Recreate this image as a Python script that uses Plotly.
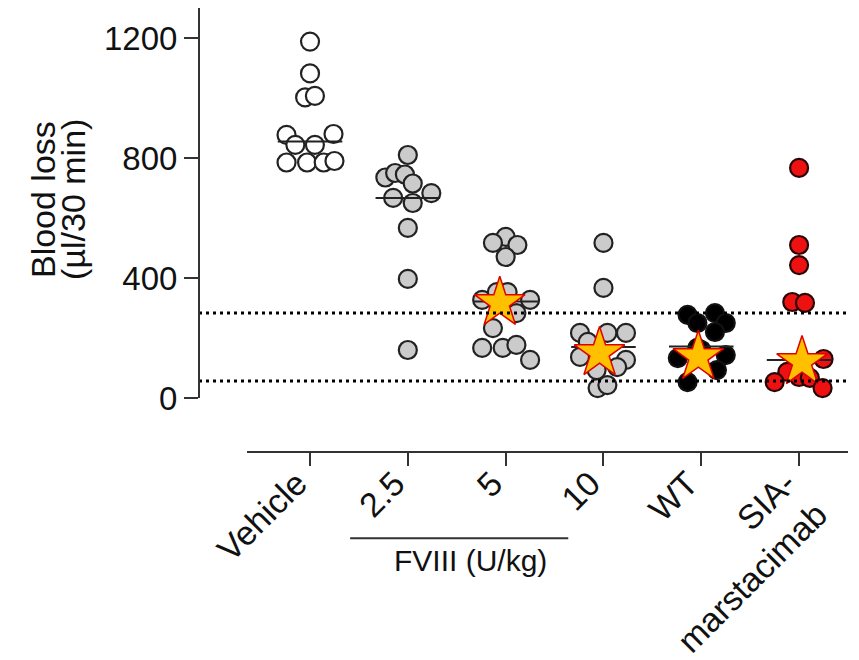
import plotly.graph_objects as go

# ---- data ----
groups = ["Vehicle", "2.5", "5", "10", "WT", "SIA-<br>marstacimab"]

vehicle_vals = [1188, 1082, 1002, 1007, 877, 880, 844, 844, 785, 785, 785, 790]
vehicle_off  = [0.0, 0.0, -0.05, 0.05, -0.24, 0.24, -0.15, 0.05, -0.24, -0.03, 0.14, 0.25]

fviii25_vals = [810, 735, 750, 745, 715, 683, 667, 650, 567, 397, 160]
fviii25_off  = [0.0, -0.23, -0.13, -0.03, 0.05, 0.24, -0.15, 0.05, 0.0, 0.0, 0.0]

fviii5_vals = [537, 517, 510, 470, 327, 353, 353, 327, 283, 233, 167, 167, 177, 127]
fviii5_off  = [0.0, -0.13, 0.12, 0.0, -0.24, -0.09, 0.02, 0.25, 0.11, -0.13, -0.24, -0.03, 0.11, 0.25]

fviii10_vals = [517, 367, 217, 217, 217, 187, 137, 127, 103, 93, 33, 43]
fviii10_off  = [0.0, 0.0, -0.24, 0.04, 0.23, -0.16, -0.24, 0.23, 0.14, -0.07, -0.06, 0.04]

wt_vals = [277, 283, 250, 250, 220, 167, 143, 133, 93, 53, 160]
wt_off  = [-0.14, 0.14, -0.04, 0.25, 0.14, -0.04, 0.25, -0.24, 0.16, -0.14, 0.0]

sia_vals = [767, 510, 443, 320, 317, 130, 87, 70, 67, 53, 33]
sia_off  = [0.0, 0.0, 0.0, -0.07, 0.06, 0.25, -0.12, 0.0, 0.11, -0.25, 0.24]

medians = [855, 667, 322, 170, 172, 127]

star_groups = [2, 3, 4, 5]
star_vals = [317, 150, 137, 120]
star_off = [-0.06, -0.04, -0.03, 0.03]

ref_lines = [283, 57]
y_ticks = [0, 400, 800, 1200]

# ---- styling ----
FONT = "Liberation Sans, Arial, sans-serif"
fills = ["white", "#cbcbcb", "#cbcbcb", "#cbcbcb", "black", "#ee1111"]
edges = ["#222222", "#222222", "#222222", "#222222", "#111111", "#2a0505"]
series = [(vehicle_vals, vehicle_off), (fviii25_vals, fviii25_off), (fviii5_vals, fviii5_off),
          (fviii10_vals, fviii10_off), (wt_vals, wt_off), (sia_vals, sia_off)]

fig = go.Figure()

for i, (vals, offs) in enumerate(series):
    fig.add_trace(go.Scatter(
        x=[i + o for o in offs], y=vals, mode="markers",
        marker=dict(size=18, color=fills[i], line=dict(color=edges[i], width=2.2)),
        showlegend=False, hoverinfo="y"))

for i, m in enumerate(medians):
    fig.add_trace(go.Scatter(
        x=[i - 0.33, i + 0.33], y=[m, m], mode="lines",
        line=dict(color="#222222", width=2), showlegend=False, hoverinfo="skip"))

fig.add_trace(go.Scatter(
    x=[g + o for g, o in zip(star_groups, star_off)], y=star_vals, mode="markers",
    marker=dict(symbol="star", size=38, color="#FFC000", line=dict(color="#E00000", width=1.5)),
    showlegend=False, hoverinfo="y"))

shapes = []
for r in ref_lines:
    shapes.append(dict(type="line", xref="paper", yref="y", x0=0, x1=1, y0=r, y1=r,
                       line=dict(color="black", width=3, dash="3px,4px")))
# y axis line (only from 0 up)
shapes.append(dict(type="line", xref="paper", yref="y", x0=0, x1=0, y0=0, y1=1300,
                   line=dict(color="#333333", width=2)))
# detached x axis line
shapes.append(dict(type="line", xref="x", yref="paper", x0=-0.644, x1=5.5, y0=0, y1=0,
                   line=dict(color="#333333", width=2)))
# FVIII bracket line
shapes.append(dict(type="line", xref="x", yref="paper", x0=0.41, x1=2.64, y0=-0.194, y1=-0.194,
                   line=dict(color="#333333", width=2)))

annotations = [
    dict(text="FVIII (U/kg)", x=1.64, y=-0.245, xref="x", yref="paper", showarrow=False,
         xanchor="center", yanchor="middle", font=dict(size=30, color="#111111", family=FONT)),
    dict(text="Blood loss", x=-0.240, y=0.568, xref="paper", yref="paper", showarrow=False,
         textangle=-90, xanchor="center", yanchor="middle",
         font=dict(size=34, color="#111111", family=FONT)),
    dict(text="(µl/30 min)", x=-0.194, y=0.568, xref="paper", yref="paper", showarrow=False,
         textangle=-90, xanchor="center", yanchor="middle",
         font=dict(size=34, color="#111111", family=FONT)),
]

fig.update_layout(
    width=851, height=652,
    margin=dict(l=191, r=11, t=0, b=208, autoexpand=False),
    paper_bgcolor="white", plot_bgcolor="white",
    font=dict(family=FONT, size=30, color="#111111"),
    shapes=shapes, annotations=annotations,
    xaxis=dict(range=[-1.135, 5.5], tickmode="array", tickvals=list(range(len(groups))),
               ticktext=groups, tickangle=-45, ticks="outside", ticklen=13, tickwidth=2,
               tickcolor="#333333", showline=False, showgrid=False, zeroline=False,
               automargin=False, ticklabelstandoff=-16, ticklabelshift=-13,
               tickfont=dict(size=34, family=FONT, color="#111111")),
    yaxis=dict(range=[-180, 1300], tickmode="array", tickvals=y_ticks, ticks="outside",
               ticklen=14, tickwidth=2, tickcolor="#333333", showline=False, showgrid=False,
               zeroline=False, automargin=False,
               tickfont=dict(size=33, family=FONT, color="#111111")),
)

fig.write_html("out.html")
